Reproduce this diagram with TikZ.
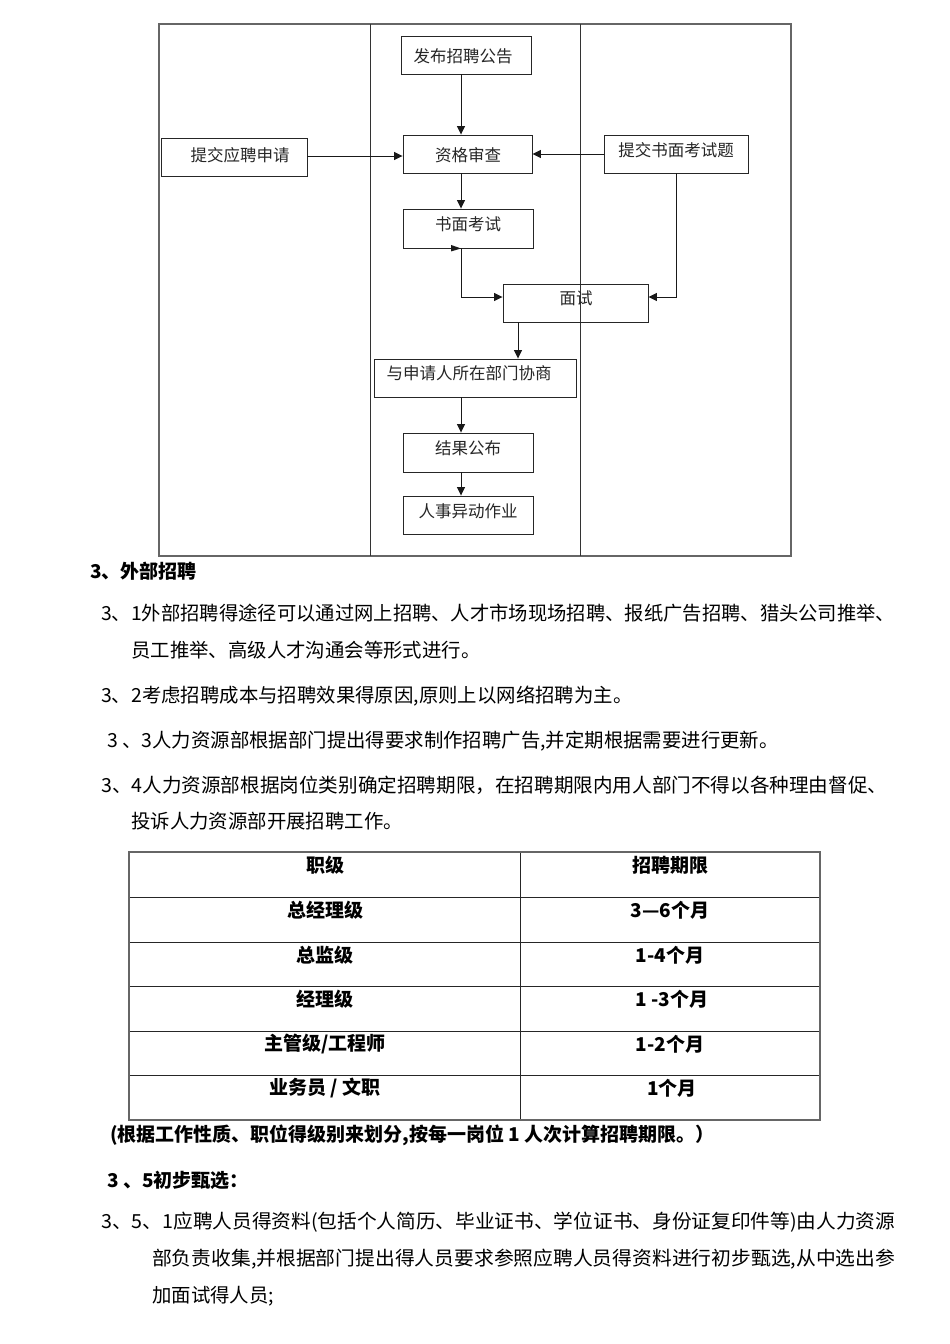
\documentclass[tikz,border=0pt]{standalone}
\usepackage{fontspec}
\usepackage{graphicx}
\setmainfont{Noto Sans CJK SC}
\usetikzlibrary{arrows.meta}
\newcommand\jl[2]{\resizebox{#1}{\height}{#2}}
\begin{document}
\begin{tikzpicture}[x=1pt,y=-1pt,
  box/.style={draw=black!85, line width=0.9pt, rectangle, inner sep=0pt},
  dtxt/.style={font=\fontsize{16.5}{18}\selectfont, inner sep=0pt, text=black!85},
  arr/.style={draw=black!90, line width=0.9pt, -{Triangle[length=8.5pt,width=8pt]}},
  lane/.style={draw=black!60, line width=1.3pt},
  divl/.style={draw=black!80, line width=0.9pt},
  body/.style={font=\fontsize{19.4}{22}\selectfont, anchor=west, inner sep=0pt},
  bbody/.style={font=\fontsize{19}{22}\selectfont\bfseries, anchor=west, inner sep=0pt},
  ttxt/.style={font=\fontsize{19}{22}\selectfont\bfseries, inner sep=0pt},
  tout/.style={draw=black!60, line width=1.3pt},
  tin/.style={draw=black!85, line width=0.9pt}]
\useasboundingbox[fill=white] (0,0) rectangle (950,1344);

% swimlanes
\draw[lane] (159,24) rectangle (791,556);
\draw[divl] (370,24) -- (370,556);
\draw[divl] (580,24) -- (580,556);

% boxes
\node[box, minimum width=130pt, minimum height=38pt] (fb) at (466,55) {};
\node[box, minimum width=129pt, minimum height=38pt] (zg) at (467.5,154) {};
\node[box, minimum width=146pt, minimum height=38pt] (tj) at (234,157) {};
\node[box, minimum width=144pt, minimum height=38pt] (ts) at (676,154) {};
\node[box, minimum width=130pt, minimum height=39pt] (sm) at (468,228.5) {};
\node[box, minimum width=145pt, minimum height=38pt] (ms) at (575.5,303) {};
\node[box, minimum width=202pt, minimum height=38pt] (xs) at (475,378) {};
\node[box, minimum width=130pt, minimum height=39pt] (jg) at (468,452.5) {};
\node[box, minimum width=130pt, minimum height=38pt] (rs) at (468,515) {};

\node[dtxt] (fbt) at (463,56) {发布招聘公告};
\node[dtxt] (zgt) at (468,155) {资格审查};
\node[dtxt] (tjt) at (240,155) {提交应聘申请};
\node[dtxt] (tst) at (676,150) {提交书面考试题};
\node[dtxt] (smt) at (468,224) {书面考试};
\node[dtxt] (mst) at (576,298) {面试};
\node[dtxt] (xst) at (469,373) {与申请人所在部门协商};
\node[dtxt] (jgt) at (468,448) {结果公布};
\node[dtxt] (rst) at (468,511) {人事异动作业};

% connector helpers
\coordinate (cx) at (461,0);
\coordinate (cm) at (518,0);
\coordinate (y1) at (0,156);
\coordinate (y2) at (0,154);
\coordinate (y3) at (0,297);

\draw[arr] (fb.south -| cx) -- (zg.north -| cx);
\draw[arr] (tj.east |- y1) -- (zg.west |- y1);
\draw[arr] (ts.west |- y2) -- (zg.east |- y2);
\draw[arr] (zg.south -| cx) -- (sm.north -| cx);
\draw[arr] (sm.south -| cx) |- (ms.west |- y3);
\draw[arr] (ts.south) |- (ms.east |- y3);
\draw[arr] (ms.south -| cm) -- (xs.north -| cm);
\draw[arr] (xs.south -| cx) -- (jg.north -| cx);
\draw[arr] (jg.south -| cx) -- (rs.north -| cx);
\fill[black!90] ([xshift=-10pt,yshift=3.5pt]sm.south -| cx) -- (sm.south -| cx) -- ([xshift=-10pt,yshift=-3pt]sm.south -| cx) -- cycle;

% text
\node[bbody] (h3) at (90,571) {3、外部招聘};
\node[body] (l1) at (101,613) {\jl{794pt}{3、1外部招聘得途径可以通过网上招聘、人才市场现场招聘、报纸广告招聘、猎头公司推举、}};
\node[body] (l2) at (131,650) {员工推举、高级人才沟通会等形式进行。};
\node[body] (l3) at (101,696) {3、2考虑招聘成本与招聘效果得原因,原则上以网络招聘为主。};
\node[body] (l4) at (107,741) {3 、3人力资源部根据部门提出得要求制作招聘广告,并定期根据需要进行更新。};
\node[body] (l5) at (101,785) {\jl{786pt}{3、4人力资源部根据岗位类别确定招聘期限，在招聘期限内用人部门不得以各种理由督促、}};
\node[body] (l6) at (131,821) {投诉人力资源部开展招聘工作。};

% table
\draw[tin] (129,897) -- (820,897);
\draw[tin] (129,942) -- (820,942);
\draw[tin] (129,986) -- (820,986);
\draw[tin] (129,1031) -- (820,1031);
\draw[tin] (129,1075) -- (820,1075);
\draw[tin] (520,852) -- (520,1120);
\draw[tout] (129,852) rectangle (820,1120);

\node[ttxt] (r0a) at (325,865) {职级};
\node[ttxt] (r0b) at (670,865) {招聘期限};
\node[ttxt] (r1a) at (325,910) {总经理级};
\node[ttxt] (r1b) at (670,910) {3—6个月};
\node[ttxt] (r2a) at (325,955) {总监级};
\node[ttxt] (r2b) at (670,955) {1-4个月};
\node[ttxt] (r3a) at (325,999) {经理级};
\node[ttxt] (r3b) at (672,999) {1 -3个月};
\node[ttxt] (r4a) at (325,1044) {主管级/工程师};
\node[ttxt] (r4b) at (670,1044) {1-2个月};
\node[ttxt] (r5a) at (325,1088) {业务员 / 文职};
\node[ttxt] (r5b) at (672,1088) {1个月};

\node[bbody] (fn) at (110,1135) {(根据工作性质、职位得级别来划分,按每一岗位 1 人次计算招聘期限。）};

\node[bbody] (h35) at (107,1180) {3 、5初步甄选：};
\node[body] (l7) at (101,1222) {\jl{794pt}{3、5、1应聘人员得资料(包括个人简历、毕业证书、学位证书、身份证复印件等)由人力资源}};
\node[body] (l8) at (152,1259) {\jl{743pt}{部负责收集,并根据部门提出得人员要求参照应聘人员得资料进行初步甄选,从中选出参}};
\node[body] (l9) at (152,1296) {加面试得人员;};
\end{tikzpicture}
\end{document}
